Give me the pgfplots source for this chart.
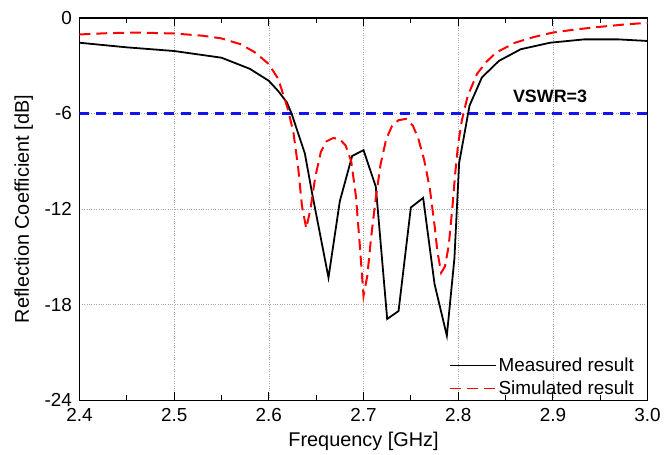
\documentclass[border=0pt]{standalone}
\usepackage{fontspec}
\setmainfont{Liberation Sans}
\usepackage{pgfplots}
\pgfplotsset{compat=1.18}
\definecolor{vswrblue}{RGB}{20,20,240}
\begin{document}
\begin{tikzpicture}
\begin{axis}[
  name=ax,
  scale only axis,
  width=572pt, height=385pt,
  xmin=2.4, xmax=3.0, ymin=-24, ymax=0,
  xtick={2.4,2.5,...,3.0},
  ytick={-24,-18,-12,-6,0},
  minor xtick={2.45,2.55,...,2.95},
  xticklabel style={yshift=-5pt, /pgf/number format/.cd,fixed,fixed zerofill,precision=1},
  yticklabel style={xshift=-4pt},
  /pgf/number format/assume math mode=true,
  tick label style={font=\fontsize{19}{22}\selectfont},
  label style={font=\fontsize{20}{24}\selectfont},
  xlabel={Frequency [GHz]},
  ylabel={Reflection Coefficient [dB]},
  xlabel style={at={(axis description cs:0.5,-0.108)}, anchor=center},
  ylabel style={at={(axis description cs:-0.098,0.5)}, anchor=center},
  tick align=inside,
  major tick length=8pt, minor tick length=5pt,
  tick style={black, line width=1pt},
  ytick style={draw=none},
  axis line style={line width=1.4pt},
  grid=major,
  grid style={gray!70, dotted, line width=0.6pt},
  legend style={draw=none, fill=none, at={(0.985,0.0)}, anchor=south east,
    font=\fontsize{19}{22}\selectfont, row sep=4pt},
  legend cell align=left,
  legend image code/.code={\draw[#1] (0pt,0pt) -- (46pt,0pt);},
]
\addplot[color=vswrblue, line width=2.4pt, dash pattern=on 10pt off 7pt, forget plot] coordinates {(2.4,-6) (3.0,-6)};
\addplot[black, line width=1.8pt] coordinates {
  (2.400,-1.56) (2.450,-1.85) (2.500,-2.08) (2.550,-2.50) (2.580,-3.20)
  (2.600,-3.95) (2.610,-4.60) (2.619,-5.30) (2.624,-6.00) (2.638,-8.50)
  (2.646,-11.1) (2.663,-16.3) (2.675,-11.5) (2.688,-8.67) (2.700,-8.30)
  (2.713,-10.6) (2.725,-18.9) (2.737,-18.4) (2.750,-11.9) (2.763,-11.3)
  (2.775,-16.7) (2.788,-19.95) (2.796,-15.1) (2.801,-9.10) (2.812,-5.50)
  (2.825,-3.74) (2.843,-2.70) (2.866,-1.97) (2.897,-1.56) (2.933,-1.35)
  (2.969,-1.35) (3.000,-1.45)
};
\addlegendentry{Measured result}
\addplot[red, line width=2pt, dash pattern=on 11pt off 6pt] coordinates {
  (2.400,-1.04) (2.430,-0.96) (2.460,-0.92) (2.500,-0.98) (2.530,-1.12)
  (2.550,-1.29) (2.570,-1.65) (2.585,-2.15) (2.600,-2.90) (2.610,-3.84)
  (2.620,-5.70) (2.626,-7.20) (2.631,-9.40) (2.635,-11.8) (2.6395,-13.2)
  (2.644,-12.0) (2.649,-10.0) (2.655,-8.40) (2.661,-7.75) (2.668,-7.54)
  (2.675,-7.62) (2.681,-8.00) (2.687,-9.00) (2.692,-11.2) (2.696,-14.2)
  (2.700,-17.45) (2.704,-16.2) (2.708,-13.8) (2.713,-11.3) (2.718,-9.20)
  (2.724,-7.60) (2.730,-6.80) (2.737,-6.42) (2.745,-6.34) (2.752,-6.75)
  (2.758,-7.60) (2.764,-8.90) (2.770,-10.7) (2.775,-13.0) (2.778,-14.65)
  (2.782,-16.0) (2.786,-15.6) (2.790,-14.3) (2.794,-11.8) (2.797,-9.66)
  (2.800,-7.90) (2.804,-6.40) (2.810,-4.90) (2.820,-3.50) (2.830,-2.75)
  (2.840,-2.18) (2.860,-1.56) (2.880,-1.20) (2.900,-0.92) (2.925,-0.72)
  (2.950,-0.56) (2.975,-0.42) (3.000,-0.31)
};
\addlegendentry{Simulated result}
\node[font=\bfseries\fontsize{18}{22}\selectfont] at (axis cs:2.897,-4.9) {VSWR=3};
\end{axis}
\path (ax.north west) ++(-80pt,18pt) coordinate (tl);
\path (ax.south east) ++(12pt,-54pt) coordinate (br);
\path (tl) (br);
\end{tikzpicture}
\end{document}
